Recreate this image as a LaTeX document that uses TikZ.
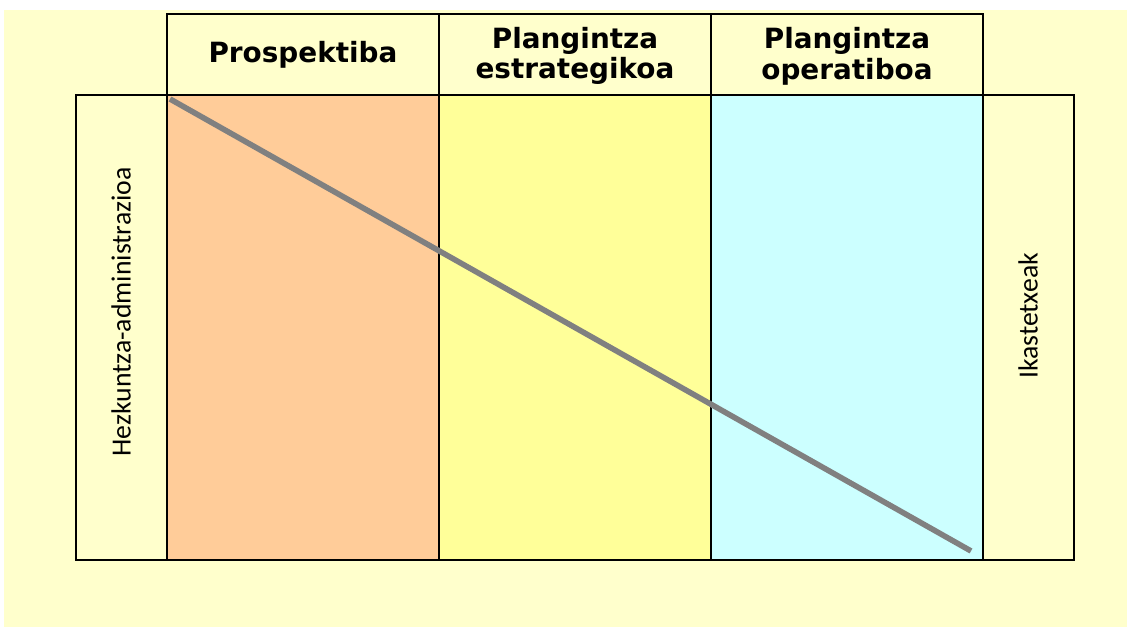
\documentclass[tikz,border=0pt]{standalone}
\usepackage{fontspec}
\setmainfont{Carlito}
\newfontfamily\headfont{DejaVu Sans}
\definecolor{bgyellow}{HTML}{FFFFCC}
\definecolor{colorange}{HTML}{FFCC99}
\definecolor{colyellow}{HTML}{FFFF99}
\definecolor{colcyan}{HTML}{CCFFFF}
\definecolor{diaggray}{HTML}{808080}
\begin{document}
\begin{tikzpicture}[x=0.75pt, y=-0.75pt,
    headbox/.style={draw, line width=2.2pt, fill=bgyellow, minimum width=204pt, minimum height=60.75pt, inner sep=0pt},
    colbox/.style={draw, line width=2.2pt, minimum width=204pt, minimum height=348.75pt, inner sep=0pt},
    sidebox/.style={draw, line width=2.2pt, fill=bgyellow, minimum width=68.25pt, minimum height=348.75pt, inner sep=0pt},
    headtext/.style={font=\headfont\bfseries\fontsize{20.9}{23}\selectfont, align=center},
    sidetext/.style={font=\fontsize{20.8}{24}\selectfont, rotate=90}]

    % Background
    \useasboundingbox (0,0) rectangle (1127,627);
    \fill[bgyellow] (4,10) rectangle (1127,627);

    % Header row
    \node[headbox] (hprosp) at (303, 54.5) {};
    \node[headbox] (hstrat) at (575, 54.5) {};
    \node[headbox] (hoper) at (847, 54.5) {};
    \node[headtext] at (303, 55) {Prospektiba};
    \node[headtext] at (575, 56) {Plangintza\\estrategikoa};
    \node[headtext] at (847, 56) {Plangintza\\operatiboa};

    % Columns
    \node[colbox, fill=colorange] (prosp) at (303, 327.5) {};
    \node[colbox, fill=colyellow] (strat) at (575, 327.5) {};
    \node[colbox, fill=colcyan] (oper) at (847, 327.5) {};

    % Side boxes
    \node[sidebox] (admin) at (121.5, 327.5) {};
    \node[sidebox] (school) at (1028.5, 327.5) {};
    \node[sidetext] at (121, 312) {Hezkuntza-administrazioa};
    \node[sidetext] at (1028, 316) {Ikastetxeak};

    % Diagonal line
    \coordinate (dstart) at (170, 99);
    \coordinate (dend) at (971, 551);
    \draw[diaggray, line width=4.2pt] (dstart) -- (dend);

\end{tikzpicture}
\end{document}
